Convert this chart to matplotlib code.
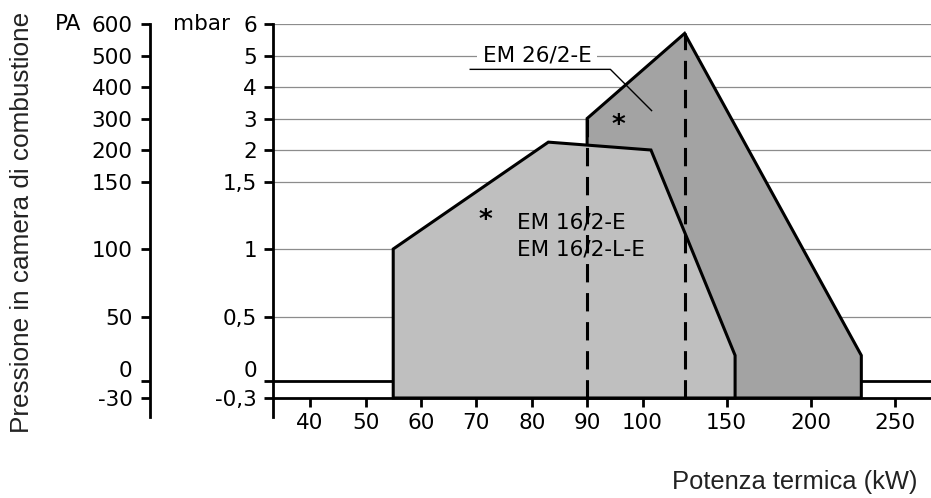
import numpy as np
import matplotlib.pyplot as plt

# --- data (kW, mbar) ---
x_ticks = [40, 50, 60, 70, 80, 90, 100, 150, 200, 250]
y_ticks = [-0.3, 0, 0.5, 1, 1.5, 2, 3, 4, 5, 6]
mbar_labels = ['-0,3', '0', '0,5', '1', '1,5', '2', '3', '4', '5', '6']
pa_labels = ['-30', '0', '50', '100', '150', '200', '300', '400', '500', '600']

em16_kw = [55, 55, 83, 105, 155, 155]
em16_mbar = [-0.3, 1.0, 2.25, 2.0, 0.2, -0.3]
em26_kw = [90, 90, 125, 230, 230]
em26_mbar = [-0.3, 3.0, 5.7, 0.2, -0.3]
dash_kw = [90, 125]
dash_top = [3.0, 5.7]

# --- non linear scales (as printed on the sheet) ---
y_knots = np.array([-1, -0.3, 0, 0.5, 1, 1.5, 2, 6, 10])
y_pix = -np.array([437.7, 398, 381, 317, 249, 182, 150, 24, -102])


def fwd_y(v):
    return np.interp(v, y_knots, y_pix)


def inv_y(p):
    return np.interp(p, y_pix, y_knots)


def fwd_x(v):
    v = np.asarray(v, dtype=float)
    return np.where(v <= 100, v * 5.53, 553 + (v - 100) * 1.68)


def inv_x(p):
    p = np.asarray(p, dtype=float)
    return np.where(p <= 553, p / 5.53, 100 + (p - 553) / 1.68)


W, H = 931, 498
font = 'DejaVu Sans'
fs = 15.5

fig = plt.figure(figsize=(W / 100, H / 100), dpi=100)
ax = fig.add_axes([273 / W, (H - 417) / H, (W - 273) / W, (417 - 24) / H])
ax.set_xscale('function', functions=(fwd_x, inv_x))
ax.set_yscale('function', functions=(fwd_y, inv_y))
ax.set_xlim(33.3, 271.4)
ax.set_ylim(-0.635, 6)

# grid
for v in y_ticks[2:]:
    ax.axhline(v, color='#8c8c8c', lw=0.9, zorder=0)
ax.axhline(0, color='black', lw=2.0, zorder=1)

# areas
ax.fill(em26_kw, em26_mbar, facecolor='#a3a3a3', edgecolor='black', lw=2.2, zorder=2, joinstyle='miter')
ax.fill(em16_kw, em16_mbar, facecolor='#bfbfbf', edgecolor='black', lw=2.2, zorder=3, joinstyle='miter')
ax.vlines(dash_kw, -0.3, dash_top, colors='black', lw=2.2, linestyles=(0, (6, 3.5)), zorder=4)

# axes
for s in ['top', 'right']:
    ax.spines[s].set_visible(False)
ax.spines['left'].set_linewidth(2.0)
ax.spines['bottom'].set_linewidth(2.0)
ax.spines['bottom'].set_position(('data', -0.3))
ax.spines['bottom'].set_zorder(5)
ax.set_xticks(x_ticks)
ax.set_xticklabels([str(t) for t in x_ticks])
ax.xaxis.set_minor_locator(plt.NullLocator())
ax.set_yticks(y_ticks)
ax.set_yticklabels(mbar_labels)
ax.yaxis.set_minor_locator(plt.NullLocator())
ax.tick_params(axis='both', length=6.5, width=2.0, direction='out', labelsize=fs)
ax.tick_params(axis='y', pad=5)
ax.tick_params(axis='x', pad=4)
for lab in ax.get_xticklabels() + ax.get_yticklabels():
    lab.set_fontfamily(font)
ax.get_yticklabels()[1].set_va('bottom')

# PA axis
ax2 = fig.add_axes([150 / W, (H - 417) / H, 0.001, (417 - 24) / H])
ax2.set_yscale('function', functions=(fwd_y, inv_y))
ax2.set_ylim(-0.635, 6)
ax2.set_facecolor('none')
for s in ['top', 'right', 'bottom']:
    ax2.spines[s].set_visible(False)
ax2.spines['left'].set_linewidth(2.0)
ax2.set_xticks([])
ax2.set_yticks(y_ticks)
ax2.set_yticklabels(pa_labels)
ax2.yaxis.set_minor_locator(plt.NullLocator())
ax2.tick_params(axis='y', length=6.5, width=2.0, labelsize=fs, pad=6)
for lab in ax2.get_yticklabels():
    lab.set_fontfamily(font)
ax2.get_yticklabels()[1].set_va('bottom')

fig.text(230 / W, (H - 24) / H, 'mbar', ha='right', va='center', fontsize=fs, family=font)
fig.text(55 / W, (H - 24) / H, 'PA', ha='left', va='center', fontsize=fs, family=font)

# annotations
ax.text(81, 5.0, 'EM 26/2-E', ha='center', va='center', fontsize=fs, family=font,
        bbox=dict(facecolor='white', edgecolor='none', pad=4), zorder=3)
ax.plot([68.9, 94.2, 105.4], [4.56, 4.56, 3.25], color='black', lw=1.0, zorder=4)
ax.text(77.4, 1.2, 'EM 16/2-E', ha='left', va='center', fontsize=fs, family=font, zorder=5)
ax.text(77.4, 1.0, 'EM 16/2-L-E', ha='left', va='center', fontsize=fs, family=font, zorder=5)
ax.text(95.6, 2.76, '*', ha='center', va='center', fontsize=19, fontweight='bold', family=font, zorder=5)
ax.text(71.6, 1.21, '*', ha='center', va='center', fontsize=19, fontweight='bold', family=font, zorder=5)

fig.text(22 / W, (H - 222) / H, 'Pressione in camera di combustione', rotation=90,
         ha='center', va='center', fontsize=18.8, family='Liberation Sans', color='#222222')
fig.text(917 / W, (H - 482) / H, 'Potenza termica (kW)', ha='right', va='center',
         fontsize=18.4, family='Liberation Sans', color='#222222')

plt.savefig('out.png', dpi=100)
